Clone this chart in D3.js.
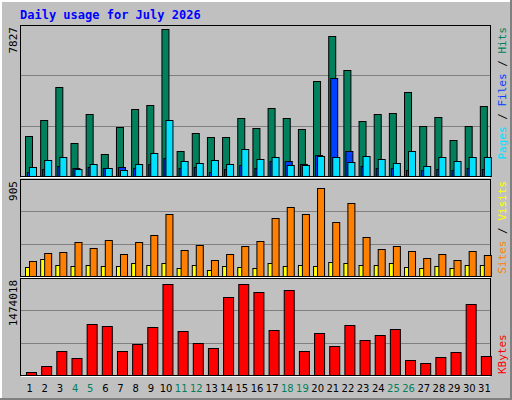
<!DOCTYPE html>
<html><head><meta charset="utf-8">
<script src="https://cdn.jsdelivr.net/npm/d3@7"></script>
<style>body{margin:0;background:#fff}</style>
</head><body>
<div id="chart"></div>
<script>
// values
var days = d3.range(1, 32);
var weekend = [4, 5, 11, 12, 18, 19, 25, 26];
var hits = [2104,2957,4731,1757,3322,1183,2592,3583,3792,7827,1339,2279,2070,2070,3113,2539,3635,3113,2487,5044,7444,5618,2905,3322,3374,4470,2644,3166,1913,2644,3740];
var files = [505,870,1026,348,661,400,296,661,1235,2957,817,713,870,661,1444,922,1026,609,609,1078,1026,765,1078,922,713,1339,557,1026,817,1026,1026];
var pages = [191,348,557,452,505,452,505,400,661,974,400,505,191,348,609,400,817,817,661,1130,5201,1339,557,452,452,296,296,348,296,452,348];
var visits = [151,226,236,330,273,358,217,330,405,613,255,302,160,217,292,349,575,679,613,867,528,716,387,264,292,245,179,217,160,245,207];
var sites = [85,170,113,94,104,94,94,123,113,132,75,104,57,94,85,75,123,94,104,94,141,132,113,113,123,85,75,94,75,104,104];
var kbytes = [53800,150600,392700,279700,828500,796200,392700,505700,780000,1474018,715500,521800,441100,1264200,1470000,1344900,731600,1377200,392700,683200,473400,812300,570300,650900,747800,247500,199000,295900,376600,1151200,312000];

var W = 512, H = 400;
var svg = d3.select("#chart").append("svg").attr("width", W).attr("height", H)
	.style("font-family", "'DejaVu Sans Mono', monospace");

// 3D frame
svg.append("rect").attr("width", W).attr("height", H).attr("fill", "#c0c0c0");
svg.append("path").attr("d", "M0,400V0H512").attr("stroke", "#fff").attr("stroke-width", 4).attr("fill", "none");
svg.append("path").attr("d", "M512,0V400H0").attr("stroke", "#808080").attr("stroke-width", 4).attr("fill", "none");

svg.append("text").attr("x", 20).attr("y", 19).attr("fill", "#0000ff")
	.attr("font-size", "12px").attr("font-weight", "bold").text("Daily usage for July 2026");

var x = d3.scaleBand().domain(days).range([21, 491]).paddingInner(0);

// panel: top, bottom px and the px where the max value sits
function panel(top, bottom, maxY, maxV, label, legend, atBottom) {
	svg.append("rect").attr("x", 20.5).attr("y", top + 0.5).attr("width", 470).attr("height", bottom - top)
		.attr("fill", "#c0c0c0").attr("stroke", "#000");
	svg.append("line").attr("x1", 21).attr("x2", 490).attr("y1", bottom + 1.5).attr("y2", bottom + 1.5).attr("stroke", "#fff");
	var h = bottom - top;
	[1, 2].forEach(function(k){
		var gy = Math.round(bottom - h * k / 3) + 0.5;
		svg.append("line").attr("x1", 21).attr("x2", 490).attr("y1", gy).attr("y2", gy).attr("stroke", "#808080");
	});
	svg.append("text").attr("transform", "translate(17," + (top + 2) + ") rotate(-90)")
		.attr("text-anchor", "end").attr("font-size", "11px").attr("fill", "#000").text(label);
	var lg = svg.append("text")
		.attr("transform", "translate(506," + (atBottom ? bottom - 1 : top + 2) + ") rotate(-90)")
		.attr("text-anchor", atBottom ? "start" : "end")
		.attr("font-size", "11px");
	legend.forEach(function(l, i){
		if (i) lg.append("tspan").attr("fill", "#000").text(" / ");
		lg.append("tspan").attr("fill", l[1]).text(l[0]);
	});
	return d3.scaleLinear().domain([0, maxV]).range([bottom, maxY]);
}

function bars(y, data, off, w, color) {
	svg.append("g").selectAll("rect").data(data).enter().append("rect")
		.attr("x", function(d, i){ return x(days[i]) + off + 0.5; })
		.attr("y", function(d){ return Math.round(y(d)) + 0.5; })
		.attr("width", w)
		.attr("height", function(d){ return Math.max(0, y(0) - Math.round(y(d))); })
		.attr("fill", color).attr("stroke", "#000");
}

var y1 = panel(25, 176, 29, 7827, "7827", [["Pages", "#00e0ff"], ["Files", "#0040ff"], ["Hits", "#00805c"]]);
bars(y1, hits, 4, 7, "#00805c");
bars(y1, pages, 6, 7, "#0040ff");
bars(y1, files, 8, 7, "#00e0ff");

var y2 = panel(179, 276, 184, 905, "905", [["Sites", "#ff8000"], ["Visits", "#ffff00"]]);
bars(y2, sites, 4, 7, "#ffff00");
bars(y2, visits, 8, 7, "#ff8000");

var y3 = panel(278, 375, 284, 1474018, "1474018", [["KBytes", "#ff0000"]], true);
bars(y3, kbytes, 5, 10, "#ff0000");

// day labels
svg.append("g").selectAll("text").data(days).enter().append("text")
	.attr("x", function(d){ return x(d) + x.bandwidth() / 2 + 1; })
	.attr("y", 392).attr("text-anchor", "middle").attr("font-size", "10px")
	.attr("font-family", "'DejaVu Sans', sans-serif")
	.attr("fill", function(d){ return weekend.indexOf(d) >= 0 ? "#00805c" : "#000"; })
	.text(function(d){ return d; });
</script>
</body></html>
